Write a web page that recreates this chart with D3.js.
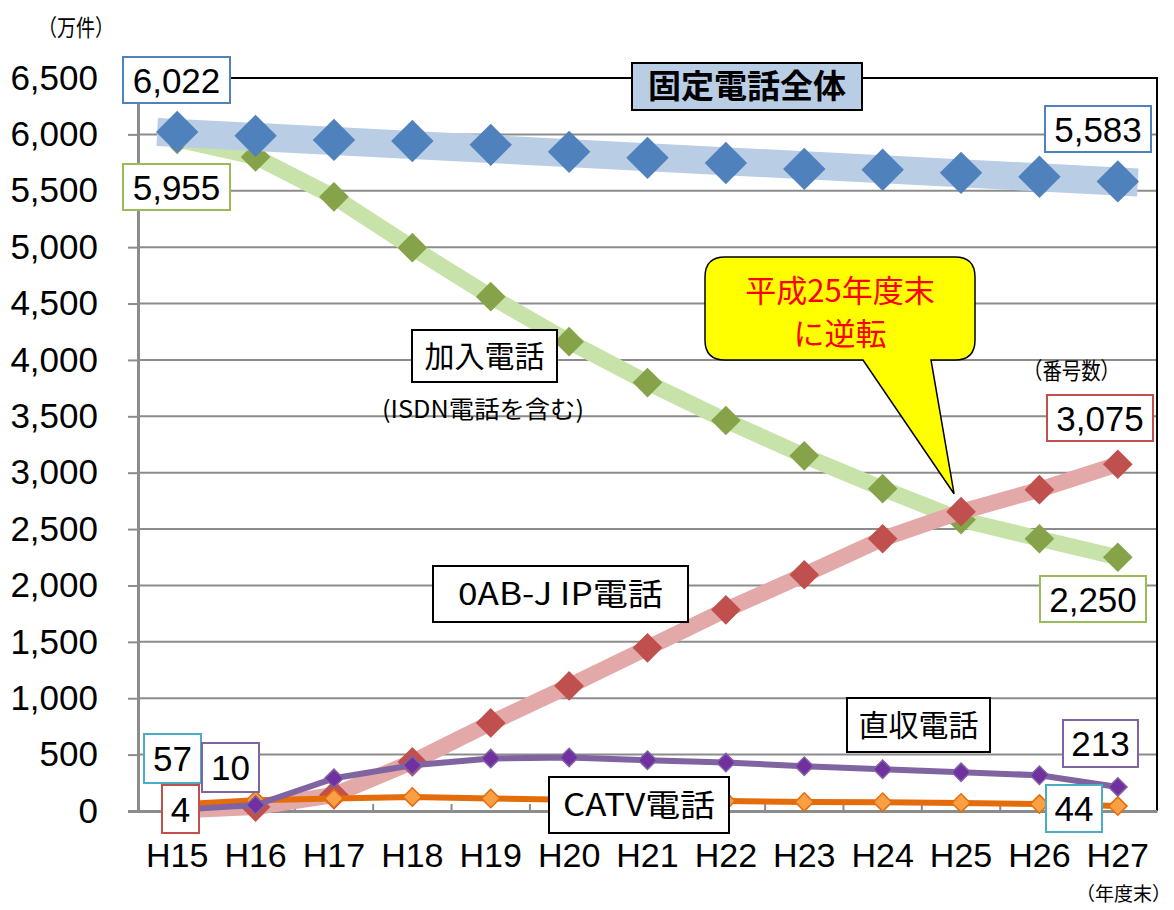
<!DOCTYPE html>
<html>
<head>
<meta charset="utf-8">
<script src="https://cdn.jsdelivr.net/npm/d3@7"></script>
<style>
body{margin:0;background:#fff;}
</style>
</head>
<body>
<svg id="chart"></svg>
<script>
var w=1174, h=910;

// data (万件, 年度末)
var categories=["H15","H16","H17","H18","H19","H20","H21","H22","H23","H24","H25","H26","H27"];
var total   =[6022,5987,5951,5942,5907,5845,5792,5747,5694,5686,5659,5624,5583];
var kanyu   =[5955,5800,5446,4995,4561,4162,3799,3463,3150,2858,2583,2414,2250];
var ipPhone =[4,35,142,435,781,1109,1447,1784,2095,2414,2654,2849,3075];
var chokushu=[10,53,290,405,465,475,450,430,397,370,343,317,213];
var catv    =[57,95,110,125,110,100,95,88,80,78,72,62,44];
var yTicks=[0,500,1000,1500,2000,2500,3000,3500,4000,4500,5000,5500,6000,6500];

var plotLeft=138, plotRight=1157, plotTop=78, plotBottom=811;
var numFont="'Liberation Sans', Arial, sans-serif";
var jpFont="'Noto Sans CJK JP', sans-serif";
var fmt=d3.format(",");

var svg=d3.select("#chart").attr("width",w).attr("height",h);

var xBand=d3.scaleBand().domain(categories).range([plotLeft,plotRight]);
var x=function(c){return xBand(c)+xBand.bandwidth()/2;};
var y=d3.scaleLinear().domain([0,6500]).range([plotBottom,plotTop]);

// gridlines
svg.append("g").selectAll("line").data(yTicks.filter(function(t){return t>0 && t<6500;}))
  .enter().append("line")
  .attr("x1",plotLeft).attr("x2",plotRight)
  .attr("y1",function(d){return y(d);}).attr("y2",function(d){return y(d);})
  .attr("stroke","#8c8c8c").attr("stroke-width",2);

// frame top / right
svg.append("path")
  .attr("d","M"+plotLeft+","+y(6500)+"H"+plotRight+"V"+plotBottom)
  .attr("fill","none").attr("stroke","#000").attr("stroke-width",2);

// y axis
var yAxis=svg.append("g").attr("transform","translate("+plotLeft+",0)")
  .call(d3.axisLeft(y).tickValues(yTicks).tickSize(10).tickPadding(30).tickFormat(fmt));
yAxis.select(".domain").attr("stroke","#8c8c8c").attr("stroke-width",3);
yAxis.selectAll(".tick line").attr("stroke","#8c8c8c").attr("stroke-width",2);
yAxis.selectAll(".tick text").attr("font-family",numFont).attr("font-size",35).attr("fill","#000");

// x axis
var xAxis=svg.append("g").attr("transform","translate(0,"+plotBottom+")")
  .call(d3.axisBottom(xBand).tickSize(0).tickPadding(32));
xAxis.select(".domain").attr("stroke","#8c8c8c").attr("stroke-width",3);
xAxis.selectAll(".tick text").attr("font-family",numFont).attr("font-size",34).attr("fill","#000");
svg.append("g").selectAll("line").data(categories.slice(1))
  .enter().append("line")
  .attr("x1",function(d){return xBand(d);}).attr("x2",function(d){return xBand(d);})
  .attr("y1",plotBottom).attr("y2",plotBottom-7)
  .attr("stroke","#8c8c8c").attr("stroke-width",2);

function lineOf(arr){
  return d3.line().x(function(d,i){return x(categories[i]);}).y(function(d){return y(d);})(arr);
}
function diamonds(arr,size,fill,stroke,sw){
  svg.append("g").selectAll("path").data(arr).enter().append("path")
    .attr("d",d3.symbol(d3.symbolSquare,size*size))
    .attr("transform",function(d,i){return "translate("+x(categories[i])+","+y(d)+") rotate(45)";})
    .attr("fill",fill).attr("stroke",stroke||"none").attr("stroke-width",sw||0);
}

// 加入電話
svg.append("path").attr("d",lineOf(kanyu)).attr("fill","none")
  .attr("stroke","#c8e3a9").attr("stroke-width",16).attr("stroke-linejoin","round");
diamonds(kanyu,21,"#86a34a");

// 0AB-J IP
svg.append("path").attr("d",lineOf(ipPhone)).attr("fill","none")
  .attr("stroke","#e3a9a8").attr("stroke-width",16).attr("stroke-linejoin","round");
diamonds(ipPhone,21,"#c0504d");

// CATV
svg.append("path").attr("d",lineOf(catv)).attr("fill","none")
  .attr("stroke","#e46c0a").attr("stroke-width",6).attr("stroke-linejoin","round");
diamonds(catv,13,"#f9a044","#e46c0a",1.5);

// 直収
svg.append("path").attr("d",lineOf(chokushu)).attr("fill","none")
  .attr("stroke","#8064a2").attr("stroke-width",6).attr("stroke-linejoin","round");
diamonds(chokushu,13,"#7030a0","#8064a2",1.5);

// 固定電話全体 band (first to last value) + diamonds
var last=categories.length-1;
svg.append("line")
  .attr("x1",x(categories[0])-20).attr("y1",y(total[0]))
  .attr("x2",x(categories[last])+20).attr("y2",y(total[last])+1)
  .attr("stroke","#b9cde5").attr("stroke-width",28);
diamonds(total,30,"#4f81bd");

// label boxes
function box(txt,bx,by,bw,bh,color,fs,font){
  var g=svg.append("g");
  g.append("rect").attr("x",bx).attr("y",by).attr("width",bw).attr("height",bh)
    .attr("fill","#fff").attr("stroke",color).attr("stroke-width",2);
  g.append("text").attr("x",bx+bw/2).attr("y",by+bh/2).attr("dy","0.36em")
    .attr("text-anchor","middle").attr("font-family",font||numFont).attr("font-size",fs||35)
    .attr("fill","#000").text(txt);
  return g;
}
box(fmt(total[0]),123,57,107,46,"#4f81bd");
box(fmt(kanyu[0]),123,164,107,46,"#9bbb59");
box(fmt(total[last]),1045,106,106,46,"#4f81bd");
box(fmt(ipPhone[last]),1047,395,106,46,"#c0504d");
box(fmt(kanyu[last]),1040,576,106,46,"#9bbb59");
box(fmt(catv[0]),144,734,57,49,"#4bacc6");
box(fmt(chokushu[0]),202,743,57,49,"#8064a2");
box(fmt(ipPhone[0]),162,785,37,48,"#c0504d");
box(fmt(chokushu[last]),1063,720,75,47,"#8064a2");
box(fmt(catv[last]),1046,785,56,47,"#4bacc6");

// series name boxes
var t1=box("固定電話全体",632,63,230,47,"#000",33,jpFont);
t1.select("rect").attr("fill","#b9cde5");
t1.select("text").attr("font-weight","bold");
box("加入電話",412,330,145,52,"#000",30,jpFont);
box("0AB-J IP電話",433,566,255,56,"#000",31,jpFont).select("text")
  .attr("textLength",205).attr("lengthAdjust","spacingAndGlyphs");
box("直収電話",847,698,143,54,"#000",30,jpFont);
box("CATV電話",549,777,180,56,"#000",31,jpFont).select("text")
  .attr("textLength",152).attr("lengthAdjust","spacingAndGlyphs");

// small notes
function note(txt,tx,ty,fs,len){
  var t=svg.append("text").attr("x",tx).attr("y",ty).attr("font-family",jpFont)
    .attr("font-size",fs).attr("fill","#000").text(txt);
  if(len) t.attr("textLength",len).attr("lengthAdjust","spacingAndGlyphs");
}
note("（万件）",38,36,23,76);
note("(ISDN電話を含む)",382,418,24,202);
note("（番号数）",1023,379,23,97);
note("（年度末）",1076,901,19);

// callout pointing at the H25 crossing
var cx0=705, cy0=257, cx1=975, cy1=360, r=20;
var tipX=x("H25")-7, tipY=y(ipPhone[10])-18;
var callout="M"+(cx0+r)+","+cy0+"H"+(cx1-r)+"Q"+cx1+","+cy0+" "+cx1+","+(cy0+r)+
  "V"+(cy1-r)+"Q"+cx1+","+cy1+" "+(cx1-r)+","+cy1+"H931L"+tipX+","+tipY+"L863,"+cy1+
  "H"+(cx0+r)+"Q"+cx0+","+cy1+" "+cx0+","+(cy1-r)+"V"+(cy0+r)+"Q"+cx0+","+cy0+" "+(cx0+r)+","+cy0+"Z";
svg.append("path").attr("d",callout).attr("fill","#ffff00").attr("stroke","#000").attr("stroke-width",1.5);
svg.append("text").attr("x",840).attr("y",302).attr("text-anchor","middle")
  .attr("font-family",jpFont).attr("font-size",31).attr("fill","#ff0000").text("平成25年度末");
svg.append("text").attr("x",840).attr("y",345).attr("text-anchor","middle")
  .attr("font-family",jpFont).attr("font-size",31).attr("fill","#ff0000").text("に逆転");
</script>
</body>
</html>
